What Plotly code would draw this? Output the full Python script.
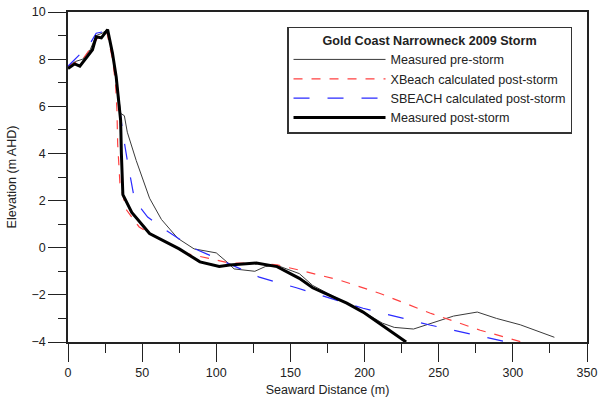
import plotly.graph_objects as go

# Measured pre-storm profile
pre_x = [0, 5, 10, 15, 19, 23, 26.5, 30, 32.5, 34.5, 35.5, 38, 40, 46, 55, 63, 74, 85, 100, 108, 112,
         126, 133, 141, 156, 165, 188, 200, 212, 220, 233, 246, 260, 276, 289, 305, 328]
pre_y = [7.7, 7.9, 8.0, 8.4, 9.0, 9.1, 9.25, 8.3, 7.3, 6.2, 5.7, 5.6, 4.9, 3.7, 2.1, 1.2, 0.4, -0.05, -0.22, -0.65, -0.9,
         -1.0, -0.8, -0.75, -1.1, -1.6, -2.35, -2.75, -3.2, -3.38, -3.45, -3.2, -2.9, -2.73, -3.0, -3.27, -3.8]

# XBeach calculated post-storm
xb_x = [0, 10, 20, 26, 30, 32, 33, 33.5, 35, 39.5, 48, 60, 73, 80, 95, 109, 125, 141, 156, 183, 210, 244, 278, 306]
xb_y = [7.7, 8.0, 8.9, 9.2, 8.0, 7.0, 5.85, 4.4, 2.75, 1.6, 0.88, 0.42, 0.03, -0.25, -0.45, -0.65, -0.65, -0.73, -0.95,
        -1.37, -1.93, -2.77, -3.5, -4.0]

# SBEACH calculated post-storm
sb_x = [0, 8, 12.5, 19, 26.7, 30, 32.7, 35, 37, 40, 45, 53.7, 64, 84, 107, 129, 154, 175, 199, 244, 296]
sb_y = [7.7, 8.2, 8.4, 9.1, 9.2, 8.3, 7.0, 5.8, 4.85, 3.7, 2.0, 1.3, 0.83, 0.0, -0.65, -1.25, -1.7, -2.1, -2.57, -3.28, -4.0]

# Measured post-storm profile
post_x = [0, 4.5, 8, 12.5, 16.5, 19, 22.5, 26.7, 30, 32.5, 34, 35.5, 36, 37, 43, 55, 75, 89, 102, 109, 127, 141, 156,
          165, 188, 199, 228]
post_y = [7.6, 7.8, 7.7, 8.05, 8.4, 8.95, 8.9, 9.25, 8.25, 7.25, 6.3, 5.4, 4.0, 2.25, 1.5, 0.6, -0.05, -0.6, -0.8, -0.73,
          -0.65, -0.8, -1.3, -1.7, -2.35, -2.73, -4.0]

FONT = "Liberation Sans, Arial, sans-serif"
FS = 12.5

fig = go.Figure()
fig.add_trace(go.Scatter(x=pre_x, y=pre_y, mode="lines", name="Measured pre-storm",
                         line=dict(color="#3a3a3a", width=1)))
fig.add_trace(go.Scatter(x=xb_x, y=xb_y, mode="lines", name="XBeach calculated post-storm",
                         line=dict(color="#ff4040", width=1.2, dash="9px,9px")))
fig.add_trace(go.Scatter(x=sb_x, y=sb_y, mode="lines", name="SBEACH calculated post-storm",
                         line=dict(color="#2a2aff", width=1.2, dash="16px,18px")))
fig.add_trace(go.Scatter(x=post_x, y=post_y, mode="lines", name="Measured post-storm",
                         line=dict(color="#000000", width=3)))

axis_common = dict(
    showline=True, linecolor="#222", linewidth=1.5, mirror=True,
    showgrid=False, zeroline=False, automargin=False,
    ticks="outside", ticklen=18, tickwidth=1.2, tickcolor="#222",
    ticklabeloverflow="allow",
    tickfont=dict(family=FONT, size=FS, color="#222"),
)

fig.update_layout(
    width=598, height=398,
    margin=dict(l=68, r=11, t=12, b=56),
    paper_bgcolor="white", plot_bgcolor="white",
    font=dict(family=FONT, size=FS, color="#222"),
    xaxis=dict(range=[0, 350], dtick=50, tick0=0,
               minor=dict(dtick=25, ticks="outside", ticklen=9, tickcolor="#222", tickwidth=1.2),
               title=dict(text="Seaward Distance (m)", standoff=6, font=dict(family=FONT, size=FS, color="#222")),
               **axis_common),
    yaxis=dict(range=[-4, 10], dtick=2, tick0=0,
               minor=dict(dtick=1, ticks="outside", ticklen=8, tickcolor="#222", tickwidth=1.2),
               title=dict(text="Elevation (m AHD)", standoff=12, font=dict(family=FONT, size=FS, color="#222")),
               **axis_common),
    showlegend=True,
    legend=dict(
        x=0.422, y=0.955, xanchor="left", yanchor="top",
        bgcolor="white", bordercolor="#333", borderwidth=1.5,
        itemwidth=92, tracegroupgap=0,
        title=dict(text="<b>Gold Coast Narrowneck 2009 Storm</b>", side="top center",
                   font=dict(family=FONT, size=12.6, color="#222")),
        font=dict(family=FONT, size=12.6, color="#222"),
    ),
)

fig.write_html("out.html", config={"displayModeBar": False},
               post_script="document.body.style.margin='0';document.body.style.overflow='hidden';")
